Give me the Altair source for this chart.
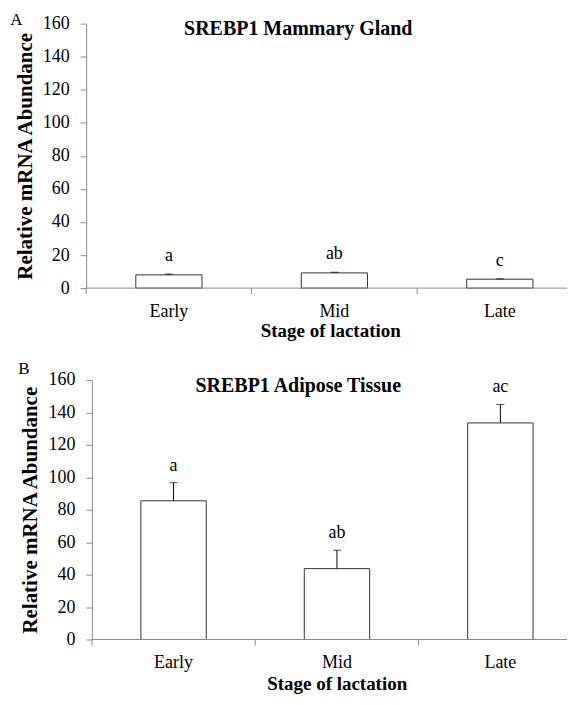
import altair as alt
import pandas as pd

# ---- data ----
stages = ["Early", "Mid", "Late"]

mg_mean = [8.0, 9.2, 5.4]
mg_sem = [0.5, 0.4, 0.2]
mg_letters = ["a", "ab", "c"]

at_mean = [85.5, 43.7, 133.5]
at_sem = [11.2, 11.3, 11.4]
at_letters = ["a", "ab", "ac"]

y_ticks = [0, 20, 40, 60, 80, 100, 120, 140, 160]
x_title = "Stage of lactation"
y_title = "Relative mRNA Abundance"

FONT = "Liberation Serif"
GRAY = "#8a8a8a"
W = 476


def panel(mean, sem, letters, title, tag, height, span, yoff, tag_xy,
          title_xy, letter_dy, lab_dy, xt_xy):
    step = span / 3.0
    df = pd.DataFrame({
        "stage": stages,
        "mean": mean,
        "upper": [m + s for m, s in zip(mean, sem)],
        "letter": letters,
    })
    x_scale = alt.Scale(domain=stages, range=[-yoff, span - yoff],
                        paddingInner=0.6, paddingOuter=0.3)
    y_scale = alt.Scale(domain=[0, 160], nice=False)
    y_axis = alt.Axis(title=y_title, values=y_ticks, offset=yoff)

    def X():
        return alt.X("stage:N", scale=x_scale, axis=None, sort=stages)

    def Y(field):
        return alt.Y(field, scale=y_scale, axis=y_axis, title=y_title)

    base = alt.Chart(df)
    bars = base.mark_bar(fill="white", stroke="#333333", strokeWidth=1).encode(
        x=X(), y=Y("mean:Q"),
    )
    err = base.mark_rule(color="black", strokeWidth=1).encode(
        x=X(), y=Y("mean:Q"), y2="upper:Q",
    )
    cap = base.mark_tick(orient="horizontal", size=8, thickness=1,
                         color="black").encode(
        x=X(), y=Y("upper:Q"),
    )
    lett = base.mark_text(font=FONT, fontSize=18, baseline="alphabetic",
                          dy=letter_dy, color="black").encode(
        x=X(), y=Y("upper:Q"), text="letter:N",
    )
    # x axis drawn by hand: baseline, ticks at category boundaries, labels
    baseline = alt.Chart(pd.DataFrame({"zero": [0]})).mark_rule(
        color=GRAY, strokeWidth=1).encode(
        y=Y("zero:Q"),
        x=alt.value(-yoff),
        x2=alt.value(W),
    )
    xticks = base.mark_rule(color=GRAY, strokeWidth=1,
                            xOffset=-step / 2).encode(
        x=X(), y=alt.value(height), y2=alt.value(height + 6),
    )
    xlabels = base.mark_text(font=FONT, fontSize=18, baseline="alphabetic",
                             color="black").encode(
        x=X(), y=alt.value(height + lab_dy), text="stage:N",
    )
    xtitle = alt.Chart(pd.DataFrame({"t": [x_title]})).mark_text(
        align="center", baseline="alphabetic", font=FONT, fontSize=19,
        fontWeight="bold", color="black").encode(
        x=alt.value(xt_xy[0]), y=alt.value(height + xt_xy[1]), text="t:N")
    tag_txt = alt.Chart(pd.DataFrame({"t": [tag]})).mark_text(
        align="left", baseline="alphabetic", font=FONT, fontSize=17,
        color="black").encode(
        x=alt.value(tag_xy[0]), y=alt.value(tag_xy[1]), text="t:N")
    title_txt = alt.Chart(pd.DataFrame({"t": [title]})).mark_text(
        align="center", baseline="alphabetic", font=FONT, fontSize=20,
        fontWeight="bold", color="black").encode(
        x=alt.value(title_xy[0]), y=alt.value(title_xy[1]), text="t:N")

    return alt.layer(bars, baseline, xticks, err, cap, lett, xlabels, xtitle,
                     tag_txt, title_txt).properties(width=W, height=height)


top = panel(mg_mean, mg_sem, mg_letters, "SREBP1 Mammary Gland", "A",
            height=265, span=497.3, yoff=5.7, tag_xy=(-81.7, 1.7),
            title_xy=(206.8, 11.7), letter_dy=-13, lab_dy=28.7,
            xt_xy=(239.3, 49))
bottom = panel(at_mean, at_sem, at_letters, "SREBP1 Adipose Tissue", "B",
               height=260, span=491.1, yoff=0, tag_xy=(-73.7, -6.3),
               title_xy=(206.8, 12.0), letter_dy=-12, lab_dy=29,
               xt_xy=(245.8, 51))

chart = alt.vconcat(top, bottom, spacing=18).properties(
    padding={"left": 2, "top": 2, "right": 0, "bottom": 0},
    background="white",
).configure_view(
    stroke=None
).configure_axis(
    grid=False,
    domainColor=GRAY, tickColor=GRAY, tickSize=6, tickWidth=1,
    labelFont=FONT, labelFontSize=18, labelColor="black",
    titleFont=FONT, titleFontWeight="bold", titleColor="black",
).configure_axisY(
    labelPadding=11, titleFontSize=21, titlePadding=7,
)

chart.save("out.html", embed_options={"renderer": "svg", "actions": False})
